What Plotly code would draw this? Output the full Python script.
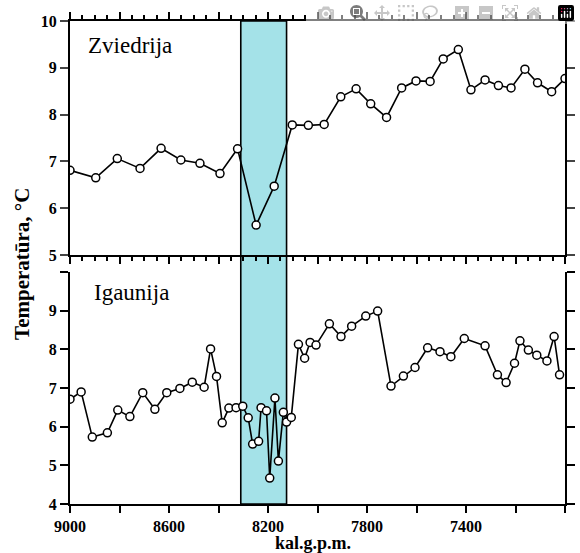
import plotly.graph_objects as go

# ---- data ----
zv_years = [9000, 8896, 8809, 8717, 8632, 8552, 8475, 8394, 8323, 8248, 8175,
            8102, 8037, 7973, 7906, 7844, 7785, 7721, 7660, 7602, 7545, 7492,
            7431, 7380, 7323, 7269, 7218, 7162, 7111, 7054, 7000]
zv_temp = [6.81, 6.65, 7.06, 6.85, 7.28, 7.03, 6.96, 6.74, 7.27, 5.64, 6.47,
           7.78, 7.77, 7.79, 8.38, 8.55, 8.23, 7.94, 8.57, 8.72, 8.71, 9.19,
           9.39, 8.53, 8.74, 8.62, 8.57, 8.97, 8.68, 8.49, 8.77]

ig_years = [9000, 8955, 8910, 8849, 8807, 8758, 8706, 8657, 8609, 8556, 8506,
            8458, 8432, 8408, 8385, 8358, 8329, 8302, 8280, 8262, 8238, 8228,
            8206, 8193, 8172, 8158, 8138, 8125, 8106, 8077, 8052, 8030, 8006,
            7952, 7905, 7862, 7805, 7757, 7703, 7653, 7606, 7555, 7505, 7461,
            7407, 7323, 7273, 7238, 7204, 7182, 7148, 7114, 7073, 7044, 7022]
ig_temp = [6.71, 6.90, 5.73, 5.84, 6.43, 6.26, 6.88, 6.45, 6.88, 6.99, 7.15,
           7.02, 8.01, 7.30, 6.10, 6.48, 6.49, 6.53, 6.23, 5.55, 5.62, 6.49,
           6.41, 4.67, 6.74, 5.11, 6.37, 6.12, 6.24, 8.13, 7.77, 8.18, 8.11,
           8.66, 8.33, 8.60, 8.86, 8.99, 7.05, 7.31, 7.53, 8.04, 7.94, 7.81,
           8.28, 8.09, 7.34, 7.14, 7.64, 8.22, 7.98, 7.85, 7.70, 8.33, 7.34]

event_band = [8310, 8125]           # cold event (8.2 ka) highlighted
x_major = [9000, 8800, 8600, 8400, 8200, 8000, 7800, 7600, 7400, 7200, 7000]
x_labels = ['9000', '', '8600', '', '8200', '', '7800', '', '7400', '', '7000']
y_top_ticks = [5, 6, 7, 8, 9, 10]
y_bot_ticks = [4, 5, 6, 7, 8, 9, 10]
y_bot_labels = ['4', '5', '6', '7', '8', '9', '']

SERIF = 'Liberation Serif'
tickfont = dict(family=SERIF, size=16, color='black', weight='bold')

line_style = dict(color='black', width=1.6)
marker_style = dict(symbol='circle', size=8, color='white',
                    line=dict(color='black', width=1.5))

fig = go.Figure()
fig.add_trace(go.Scatter(x=zv_years, y=zv_temp, xaxis='x', yaxis='y',
                         mode='lines+markers', line=line_style,
                         marker=marker_style, showlegend=False))
fig.add_trace(go.Scatter(x=ig_years, y=ig_temp, xaxis='x2', yaxis='y2',
                         mode='lines+markers', line=line_style,
                         marker=marker_style, showlegend=False))

top_dom = [0.5155, 1.0]
bot_dom = [0.0, 0.4803]

fig.update_layout(
    template='none',
    width=580, height=553,
    margin=dict(l=70, r=15, t=21, b=49),
    paper_bgcolor='white', plot_bgcolor='white',
    xaxis=dict(anchor='y', domain=[0, 1], range=[9000, 7000], dtick=200,
               showticklabels=False, showgrid=False, zeroline=False,
               showline=True, linecolor='black', linewidth=2, mirror='ticks',
               ticks='outside', ticklen=7, tickwidth=2, tickcolor='black',
               minor=dict(dtick=50, ticks='outside', ticklen=4,
                          tickwidth=1.5, tickcolor='black')),
    xaxis2=dict(anchor='y2', domain=[0, 1], range=[9000, 7000],
                tickvals=x_major, ticktext=x_labels, tickfont=tickfont,
                showgrid=False, zeroline=False, showline=True,
                linecolor='black', linewidth=2,
                ticks='outside', ticklen=7, tickwidth=2, tickcolor='black'),
    yaxis=dict(anchor='x', domain=top_dom, range=[5, 10], dtick=1,
               tickfont=tickfont, ticks='outside', ticklen=8, tickwidth=2,
               showline=True, linecolor='black', linewidth=2, mirror='ticks',
               showgrid=False, zeroline=False),
    yaxis2=dict(anchor='x2', domain=bot_dom, range=[4, 10],
                tickvals=y_bot_ticks, ticktext=y_bot_labels, tickfont=tickfont,
                ticks='outside', ticklen=8, tickwidth=2, tickcolor='black',
                showline=True, linecolor='black', linewidth=2, mirror='ticks',
                showgrid=False, zeroline=False),
    shapes=[dict(type='rect', xref='x', yref='paper',
                 x0=event_band[0], x1=event_band[1], y0=0, y1=1,
                 fillcolor='#a4e2e8', line=dict(color='black', width=1.6),
                 layer='below')],
    annotations=[
        dict(text='Zviedrija', xref='paper', yref='paper', x=0.032, y=0.950,
             xanchor='left', yanchor='middle', showarrow=False,
             font=dict(family=SERIF, size=23, color='black')),
        dict(text='Igaunija', xref='paper', yref='paper', x=0.044, y=0.437,
             xanchor='left', yanchor='middle', showarrow=False,
             font=dict(family=SERIF, size=23, color='black')),
        dict(text='Temperatūra, °C', xref='paper', yref='paper', x=-0.097,
             y=0.497, xanchor='center', yanchor='middle', textangle=-90,
             showarrow=False,
             font=dict(family=SERIF, size=21, color='black', weight='bold')),
        dict(text='kal.g.p.m.', xref='paper', yref='paper', x=0.491,
             y=-0.081, xanchor='center', yanchor='middle', showarrow=False,
             font=dict(family=SERIF, size=18, color='black', weight='bold')),
    ],
)

fig.write_html('out.html',
               post_script="document.body.style.margin='0';"
                           "document.body.style.padding='0';")
